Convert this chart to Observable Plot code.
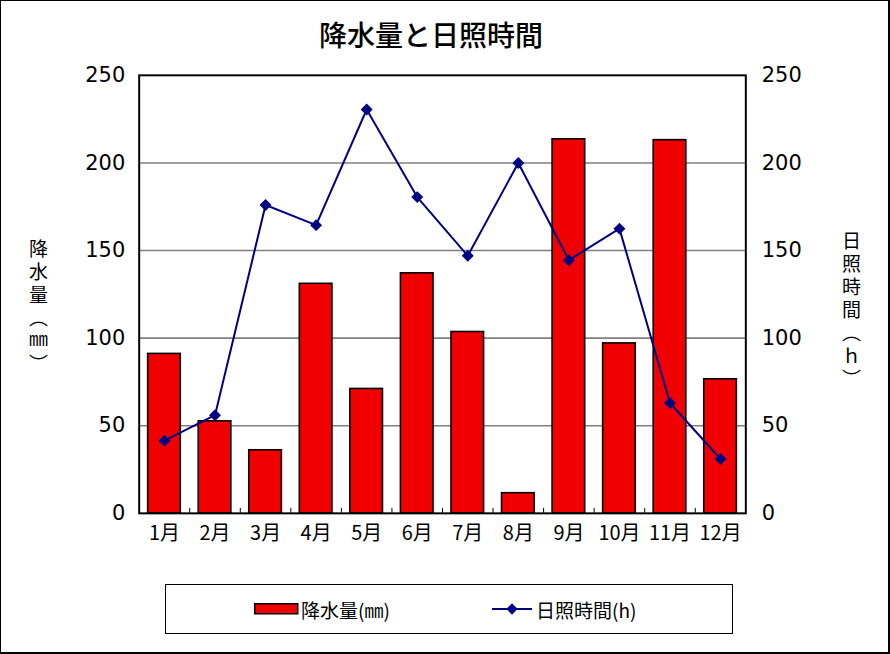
<!DOCTYPE html>
<html><head><meta charset="utf-8">
<script src="https://cdn.jsdelivr.net/npm/d3@7"></script>
<script src="https://cdn.jsdelivr.net/npm/@observablehq/plot@0.6"></script>
<style>
body{margin:0;background:#fff}
#wrap{position:relative;width:890px;height:654px;box-sizing:border-box;border:1px solid #000;border-right-width:2px;border-bottom-width:2px;overflow:hidden;font-family:"Noto Sans CJK JP",sans-serif;background:#fff}
#title{position:absolute;left:0;width:860px;top:18px;text-align:center;font-size:28px;line-height:30px;font-weight:500;color:#000}
#chart{position:absolute;left:-1px;top:-1px}
.ylab{position:absolute;writing-mode:vertical-rl;font-size:19px;letter-spacing:4px;color:#000;line-height:20px}
#ylabL{left:27px;top:238px}
#ylabR{left:840px;top:230px}
#legend{position:absolute;left:164px;top:583px;width:568px;height:50px;box-sizing:border-box;border:1px solid #000;font-size:19px;color:#000}
#legend .item{position:absolute;top:12px;display:flex;align-items:center;height:24px}
#legend svg{display:block}
</style></head>
<body>
<div id="wrap">
  <div id="title">降水量と日照時間</div>
  <div id="chart"></div>
  <div class="ylab" id="ylabL">降水量（㎜）</div>
  <div class="ylab" id="ylabR">日照時間（ｈ）</div>
  <div id="legend"></div>
</div>
<script>
const months = ["1月","2月","3月","4月","5月","6月","7月","8月","9月","10月","11月","12月"];
const rainfall = [91, 52.5, 36, 131, 71, 137, 103.5, 11.5, 213.5, 97, 213, 76.5];
const sunshine = [41.5, 56, 176, 164.5, 230.5, 180.5, 147, 200, 144.5, 162.5, 63, 31];
const yTicks = [0, 50, 100, 150, 200, 250];
const gridTicks = [50, 100, 150, 200];
const seriesNames = ["降水量(㎜)", "日照時間(h)"];
const barColor = "#f00000";
const lineColor = "#000080";

const rainData = months.map((m, i) => ({month: m, value: rainfall[i]}));
const sunData = months.map((m, i) => ({month: m, value: sunshine[i]}));

const W = 890, H = 570;
const mTop = 75, mBottom = H - 514, mLeft = 139, mRight = W - 747;
const bandW = (W - mLeft - mRight) / months.length;

const chart = Plot.plot({
  width: W, height: H,
  marginTop: mTop, marginBottom: mBottom, marginLeft: mLeft, marginRight: mRight,
  style: {background: "transparent", color: "#000", overflow: "visible"},
  x: {domain: months, paddingInner: 0.355, paddingOuter: 0.1775, round: false, label: null},
  y: {domain: [0, 250], label: null},
  marks: [
    Plot.gridY(gridTicks, {stroke: "#808080", strokeOpacity: 1, strokeWidth: 1.6}),
    Plot.barY(rainData, {x: "month", y: "value", fill: barColor, stroke: "#000", strokeWidth: 1.6}),
    Plot.line(sunData, {x: "month", y: "value", stroke: lineColor, strokeWidth: 2}),
    Plot.dot(sunData, {x: "month", y: "value", symbol: "square", r: 4.2, rotate: 45, fill: lineColor, stroke: lineColor, strokeWidth: 1}),
    Plot.ruleX(months.slice(0, -1), {x: d => d, dx: bandW / 2, insetTop: (H - mTop - mBottom) - 5, stroke: "#000", strokeWidth: 1}),
    Plot.frame({stroke: "#000", strokeWidth: 2}),
    Plot.axisY(yTicks, {anchor: "left", tickSize: 0, tickPadding: 14, fontSize: 21, fontFamily: "DejaVu Sans", label: null}),
    Plot.axisY(yTicks, {anchor: "right", tickSize: 0, tickPadding: 16, fontSize: 21, fontFamily: "DejaVu Sans", label: null}),
    Plot.axisX({tickSize: 0, tickPadding: 13, fontSize: 20, fontFamily: "Noto Sans CJK JP", label: null})
  ]
});
document.getElementById("chart").appendChild(chart);

// Legend
const legend = document.getElementById("legend");
function addItem(left, swatchSvg, text) {
  const d = document.createElement("div");
  d.className = "item";
  d.style.left = left + "px";
  d.innerHTML = swatchSvg + `<span style="margin-left:2px">${text}</span>`;
  legend.appendChild(d);
}
addItem(88, `<svg width="45" height="12"><rect x="0.75" y="0.75" width="43" height="10" fill="${barColor}" stroke="#000" stroke-width="1.5"/></svg>`, seriesNames[0]);
addItem(324, `<svg width="44" height="14"><line x1="2" y1="7" x2="42" y2="7" stroke="${lineColor}" stroke-width="2"/><rect x="18" y="3" width="8" height="8" fill="${lineColor}" transform="rotate(45 22 7)"/></svg>`, seriesNames[1]);
</script>
</body></html>
